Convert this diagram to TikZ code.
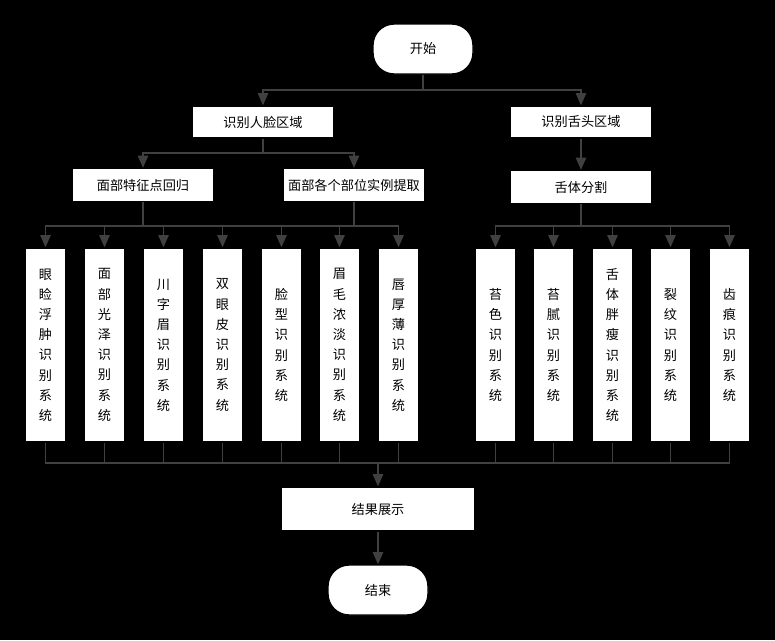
\documentclass[tikz,border=0pt]{standalone}
\usepackage{fontspec}
\setmainfont{Noto Sans CJK SC}
\usetikzlibrary{arrows.meta}
\colorlet{line gray}{black!75}
\tikzstyle{box} = [draw=black, fill=white, thick, inner sep=0pt, font=\fontsize{7.5}{11.5}\selectfont, align=center]
\tikzstyle{term} = [box, rounded corners=12pt, minimum width=100*0.02cm, minimum height=50*0.02cm]
\tikzstyle{step box} = [box, minimum width=141*0.02cm, minimum height=32*0.02cm, text width=135*0.02cm]
\tikzstyle{sys} = [box, minimum width=41*0.02cm, minimum height=194*0.02cm, text width=20*0.02cm]
\tikzstyle{link} = [draw=line gray, thick, -]
\tikzstyle{arrow} = [draw=line gray, thick, -{Triangle[width=6pt,length=7pt]}]
\def\face{{45.5/a/眼\\睑\\浮\\肿\\识\\别\\系\\统}, {104.5/b/面\\部\\光\\泽\\识\\别\\系\\统}, {163.5/c/川\\字\\眉\\识\\别\\系\\统}, {222.5/d/双\\眼\\皮\\识\\别\\系\\统}, {281.5/e/脸\\型\\识\\别\\系\\统}, {339.5/f/眉\\毛\\浓\\淡\\识\\别\\系\\统}, {398.5/g/唇\\厚\\薄\\识\\别\\系\\统}}
\def\tongue{{495.5/p/苔\\色\\识\\别\\系\\统}, {553.5/q/苔\\腻\\识\\别\\系\\统}, {612.5/r/舌\\体\\胖\\瘦\\识\\别\\系\\统}, {670.5/s/裂\\纹\\识\\别\\系\\统}, {729.5/t/齿\\痕\\识\\别\\系\\统}}
\begin{document}
\begin{tikzpicture}[x=0.02cm, y=-0.02cm]

    % Canvas
    \fill[black] (0,0) rectangle (775,640);
    \useasboundingbox (0,0) rectangle (775,640);

    % Top part
    \node[term] (start) at (423,49) {开始};
    \node[step box] (facearea) at (263,122) {识别人脸区域};
    \node[step box] (tonguearea) at (581,122) {识别舌头区域};
    \node[step box, minimum height=33*0.02cm] (landmark) at (143,185) {面部特征点回归};
    \node[step box, minimum height=33*0.02cm] (parts) at (354,185) {面部各个部位实例提取};
    \node[step box, minimum height=33*0.02cm] (seg) at (581,187) {舌体分割};

    % The recognition systems
    \foreach \x/\name/\txt in \face
      \node[sys] (\name) at (\x,345) {\txt};
    \foreach \x/\name/\txt in \tongue
      \node[sys] (\name) at (\x,345) {\txt};

    % Bottom part
    \node[box, minimum width=193*0.02cm, minimum height=44*0.02cm] (result) at (378,509) {结果展示};
    \node[term] (stop) at (378,590) {结束};

    % Branches
    \coordinate (j1) at (423,90);
    \coordinate (j2) at (263,153);
    \coordinate (j3) at (143,226);
    \coordinate (j4) at (581,226);
    \coordinate (j5) at (378,463);
    \path[link] (start) -- (j1);
    \foreach \sink in {facearea, tonguearea}
      \path[arrow] (j1) -| (\sink);
    \path[link] (facearea) -- (j2);
    \foreach \sink in {landmark, parts}
      \path[arrow] (j2) -| (\sink);
    \path[link] (landmark) -- (j3);
    \path[link] (parts) -- (parts |- j3);
    \foreach \x/\name/\txt in \face
      \path[arrow] (j3) -| (\name);
    \path[arrow] (tonguearea) -- (seg);
    \path[link] (seg) -- (j4);
    \foreach \x/\name/\txt in \tongue
      \path[arrow] (j4) -| (\name);

    % Merge into result
    \foreach \x/\name/\txt in \face
      \path[link] (\name) |- (j5);
    \foreach \x/\name/\txt in \tongue
      \path[link] (\name) |- (j5);
    \path[arrow] (j5) -- (result);
    \path[arrow] (result) -- (stop);
\end{tikzpicture}
\end{document}
